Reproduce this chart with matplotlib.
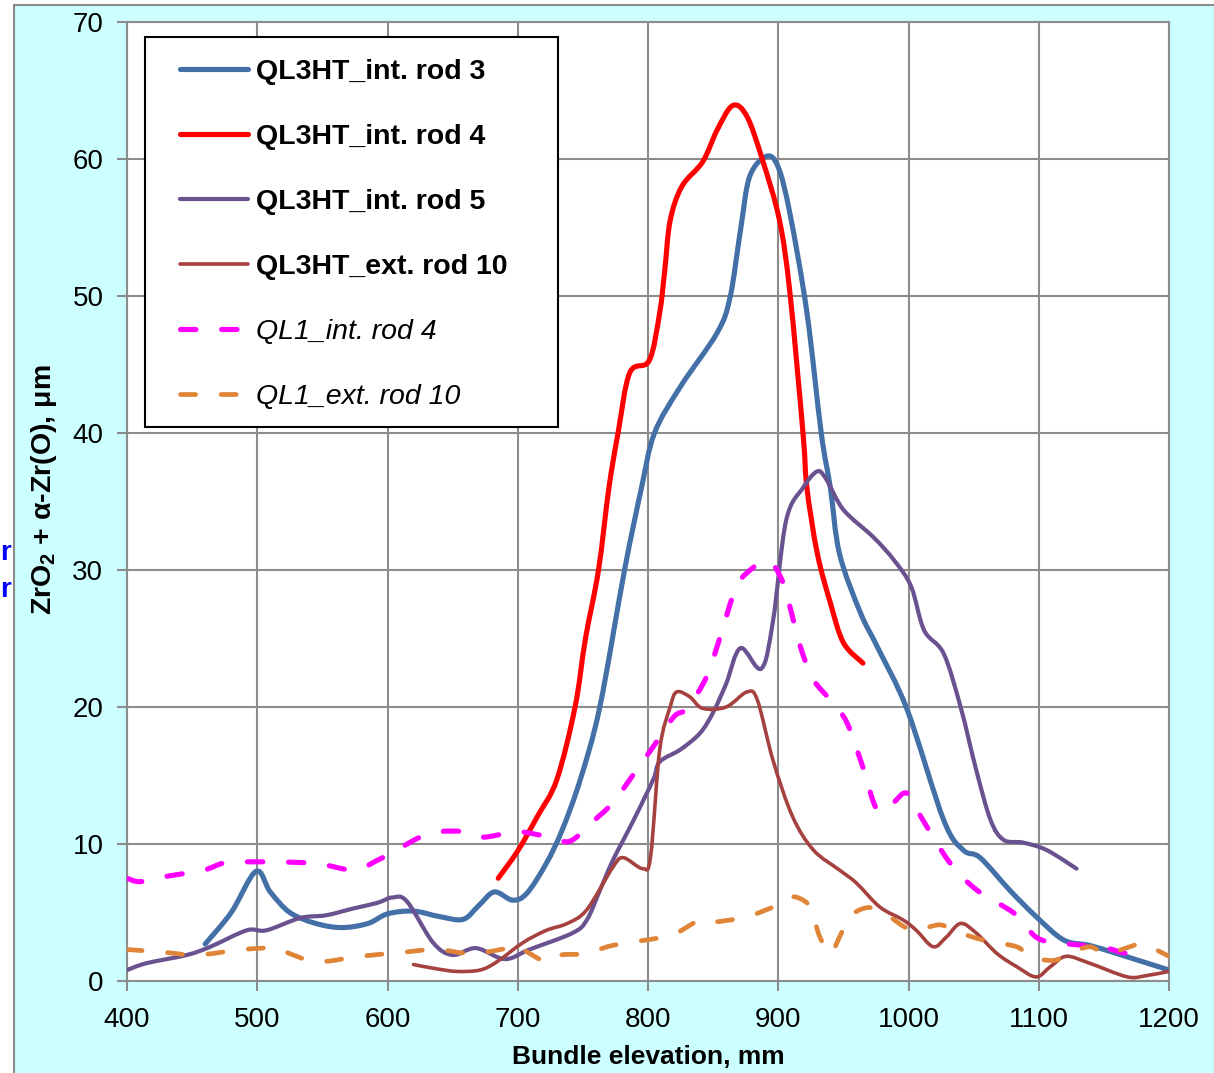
import matplotlib
matplotlib.use("Agg")
import numpy as np
import matplotlib.pyplot as plt
from matplotlib.patches import Rectangle, PathPatch
from matplotlib.path import Path
from matplotlib.lines import Line2D

plt.rcParams['font.family'] = ['Liberation Sans', 'DejaVu Sans']
plt.rcParams['mathtext.fontset'] = 'custom'
plt.rcParams['mathtext.rm'] = 'Liberation Sans'
plt.rcParams['mathtext.bf'] = 'Liberation Sans:bold'

# QL3HT int. rod 3
x_r3 = [460, 480, 499, 510, 525, 545, 565, 585, 600, 620, 640, 658, 670, 682, 696, 707, 722, 734, 748,
        763, 782, 795, 805, 825, 853, 863, 871, 878, 891, 900, 909, 922, 933, 940, 947, 963, 976, 999,
        1027, 1042, 1055, 1078, 1098, 1119, 1139, 1160, 1200]
y_r3 = [2.7, 5.0, 8.0, 6.5, 5.0, 4.2, 3.9, 4.2, 4.9, 5.1, 4.7, 4.5, 5.5, 6.5, 5.9, 6.4, 8.6, 11.0, 14.7,
        20.0, 30.0, 36.0, 40.0, 43.4, 47.3, 49.9, 54.8, 58.7, 60.2, 59.4, 56.0, 48.8, 40.0, 36.0, 31.2, 26.9, 24.4, 19.8,
        11.75, 9.56, 9.0, 6.6, 4.7, 3.0, 2.6, 2.0, 0.8]

# QL3HT int. rod 4
x_r4 = [685, 700, 715, 730, 744, 752, 762, 770, 777, 786, 801, 809, 813, 817, 826, 842, 853, 865, 876,
        888, 901, 909, 919, 922, 930, 940, 950, 965]
y_r4 = [7.5, 9.5, 12.0, 14.7, 20.0, 25.0, 30.0, 36.0, 40.0, 44.4, 45.3, 48.8, 52.0, 55.5, 58.0, 59.8, 62.1, 63.9, 63.1,
        59.9, 55.5, 50.2, 40.0, 36.0, 31.2, 27.6, 24.7, 23.2]

# QL3HT int. rod 5
x_r5 = [400, 415, 446, 464, 492, 507, 533, 553, 574, 592, 604, 615, 635, 650, 668, 690, 709, 742, 753,
        763, 773, 789, 804, 809, 825, 840, 850, 860, 871, 887, 896, 906, 919, 930, 937, 950, 973, 989,
        1002, 1012, 1027, 1040, 1052, 1063, 1073, 1088, 1106, 1129]
y_r5 = [0.8, 1.3, 1.9, 2.5, 3.7, 3.7, 4.6, 4.8, 5.3, 5.7, 6.1, 5.8, 2.8, 1.9, 2.4, 1.6, 2.3, 3.5, 4.45,
        6.6, 8.8, 11.75, 14.7, 16.0, 16.9, 18.1, 19.6, 21.7, 24.3, 22.8, 26.3, 33.6, 36.0, 37.2, 36.6, 34.4, 32.4, 30.7,
        28.8, 25.6, 23.9, 20.0, 15.4, 11.75, 10.3, 10.1, 9.56, 8.2]

# QL3HT ext. rod 10
x_r10 = [620, 637, 653, 671, 684, 704, 722, 738, 753, 773, 781, 796, 802, 809, 817, 822, 832, 842, 860,
         876, 884, 896, 911, 927, 947, 960, 978, 996, 1006, 1019, 1029, 1040, 1052, 1068, 1083, 1098,
         1109, 1121, 1139, 1168, 1183, 1200]
y_r10 = [1.2, 0.9, 0.7, 0.8, 1.4, 2.8, 3.7, 4.2, 5.2, 8.3, 9.0, 8.2, 9.1, 16.9, 20.0, 21.1, 20.75, 19.9, 20.0,
         21.1, 20.5, 16.1, 12.0, 9.56, 8.1, 7.15, 5.4, 4.45, 3.7, 2.5, 3.2, 4.2, 3.5, 2.0, 1.05, 0.3,
         1.05, 1.8, 1.3, 0.3, 0.4, 0.7]

# QL1 int. rod 4
x_q4 = [400, 410, 428, 459, 474, 494, 543, 574, 592, 607, 625, 640, 658, 673, 692, 702, 725, 740, 756,
        773, 786, 804, 820, 830, 845, 855, 868, 881, 888, 896, 904, 909, 917, 927, 942, 953, 965, 976,
        988, 999, 1011, 1032, 1053, 1081, 1098, 1114, 1134, 1152, 1168, 1185]
y_q4 = [7.5, 7.25, 7.6, 8.1, 8.6, 8.7, 8.6, 8.1, 8.8, 9.56, 10.5, 10.9, 10.9, 10.5, 10.8, 10.9, 10.5, 10.2, 11.5,
        13.0, 14.7, 17.1, 19.3, 19.9, 22.2, 25.0, 28.8, 30.2, 30.6, 30.4, 29.0, 27.3, 24.4, 22.0, 20.3, 18.8, 15.6, 12.5,
        13.0, 13.7, 11.75, 8.6, 6.6, 4.95, 3.2, 2.8, 2.6, 2.4, 2.0, 2.0]

# QL1 ext. rod 10
x_q10 = [400, 428, 454, 489, 515, 525, 546, 579, 612, 638, 666, 699, 704, 722, 733, 753, 773, 812, 822,
         840, 850, 876, 901, 911, 922, 927, 932, 940, 947, 955, 968, 980, 996, 1006, 1024, 1037, 1057,
         1083, 1093, 1111, 1124, 1139, 1152, 1170, 1180, 1200]
y_q10 = [2.3, 2.1, 1.9, 2.3, 2.4, 2.0, 1.4, 1.8, 2.1, 2.3, 2.0, 2.5, 2.3, 1.4, 1.9, 2.0, 2.6, 3.2, 3.5,
         4.45, 4.3, 4.7, 5.6, 6.15, 5.7, 4.7, 3.2, 2.0, 3.2, 4.7, 5.35, 5.05, 4.0, 3.7, 4.1, 3.6, 3.0,
         2.5, 1.8, 1.5, 2.0, 2.5, 2.0, 2.5, 2.7, 1.8]

series = [
    (x_r3, y_r3, 'QL3HT_int. rod 3', '#4370A6', 3.7, None),
    (x_r4, y_r4, 'QL3HT_int. rod 4', '#FF0000', 3.7, None),
    (x_r5, y_r5, 'QL3HT_int. rod 5', '#6A5290', 3.0, None),
    (x_r10, y_r10, 'QL3HT_ext. rod 10', '#A5423F', 2.6, None),
    (x_q4, y_q4, 'QL1_int. rod 4', '#FF00FF', 3.7, (3.0, 5.0)),
    (x_q10, y_q10, 'QL1_ext. rod 10', '#E08438', 3.4, (3.2, 5.4)),
]


def smooth_path(xs, ys):
    # Bezier segments through the points, like a spreadsheet "smoothed line"
    p = np.column_stack([xs, ys]).astype(float)
    verts = [p[0]]
    codes = [Path.MOVETO]
    n = len(p)
    for i in range(n - 1):
        p0 = p[i - 1] if i > 0 else p[i]
        p3 = p[i + 2] if i + 2 < n else p[i + 1]
        c1 = p[i] + (p[i + 1] - p0) / 6.0
        c2 = p[i + 1] - (p3 - p[i]) / 6.0
        verts += [c1, c2, p[i + 1]]
        codes += [Path.CURVE4] * 3
    return Path(verts, codes)


W, H = 1214, 1073
fig = plt.figure(figsize=(W / 100, H / 100), dpi=100)
fig.patch.set_facecolor('white')

# cyan chart area with grey frame
fig.patches.append(Rectangle((14 / W, -0.01), 1.0, 1 - 5 / H + 0.01, transform=fig.transFigure,
                             facecolor='#CCFFFF', edgecolor='#8C8C8C', linewidth=1.5, zorder=-5))

ax = fig.add_axes([127 / W, 92 / H, 1042 / W, 959 / H])
ax.set_facecolor('white')

handles = []
for xs, ys, name, col, lw, dash in series:
    ls = '-' if dash is None else (0, dash)
    ax.add_patch(PathPatch(smooth_path(xs, ys), fill=False, edgecolor=col, lw=lw, linestyle=ls,
                           capstyle='round', joinstyle='round', zorder=3))
    h = Line2D([], [], color=col, lw=lw, solid_capstyle='round', dash_capstyle='round')
    if dash is not None:
        h.set_dashes(dash)
    handles.append(h)

ax.set_xlim(400, 1200)
ax.set_ylim(0, 70)
ax.set_xticks(range(400, 1201, 100))
ax.set_yticks(range(0, 71, 10))
ax.grid(True, color='#8C8C8C', lw=1.5)
ax.set_axisbelow(True)
for s in ax.spines.values():
    s.set_color('#8C8C8C')
    s.set_linewidth(1.5)
ax.tick_params(colors='#8C8C8C', labelcolor='black', labelsize=20, length=7, width=1.5, direction='out')
ax.tick_params(axis='x', pad=12)
ax.tick_params(axis='y', pad=10)

ax.set_xlabel('Bundle elevation, mm', fontsize=19, fontweight='bold', labelpad=8)
ax.set_ylabel(r'ZrO$_\mathbf{2}$ + α-Zr(O), μm', fontsize=20.5, fontweight='bold')
ax.yaxis.set_label_coords(-0.065, 0.512)

# legend box drawn separately so its padding can be set freely
ax.add_patch(Rectangle((0.0173, 0.5777), 0.3963, 0.4067, transform=ax.transAxes, facecolor='white',
                       edgecolor='black', lw=1.5, zorder=5))
leg = ax.legend(handles, [s[2] for s in series], loc='upper left', bbox_to_anchor=(0.0509, 0.9619),
                borderaxespad=0, borderpad=0, fontsize=20.5, frameon=False, handlelength=2.4,
                handletextpad=0.28, labelspacing=1.375)
leg.set_zorder(6)
for i, t in enumerate(leg.get_texts()):
    if i < 4:
        t.set_fontweight('bold')
    else:
        t.set_fontstyle('italic')

fig.text(11 / W, 1 - 553 / H, 'r', color='#0000FF', fontsize=20, fontweight='bold', ha='right', va='center')
fig.text(11 / W, 1 - 590 / H, 'r', color='#0000FF', fontsize=20, fontweight='bold', ha='right', va='center')

fig.savefig('out.png', dpi=100, facecolor=fig.get_facecolor())
